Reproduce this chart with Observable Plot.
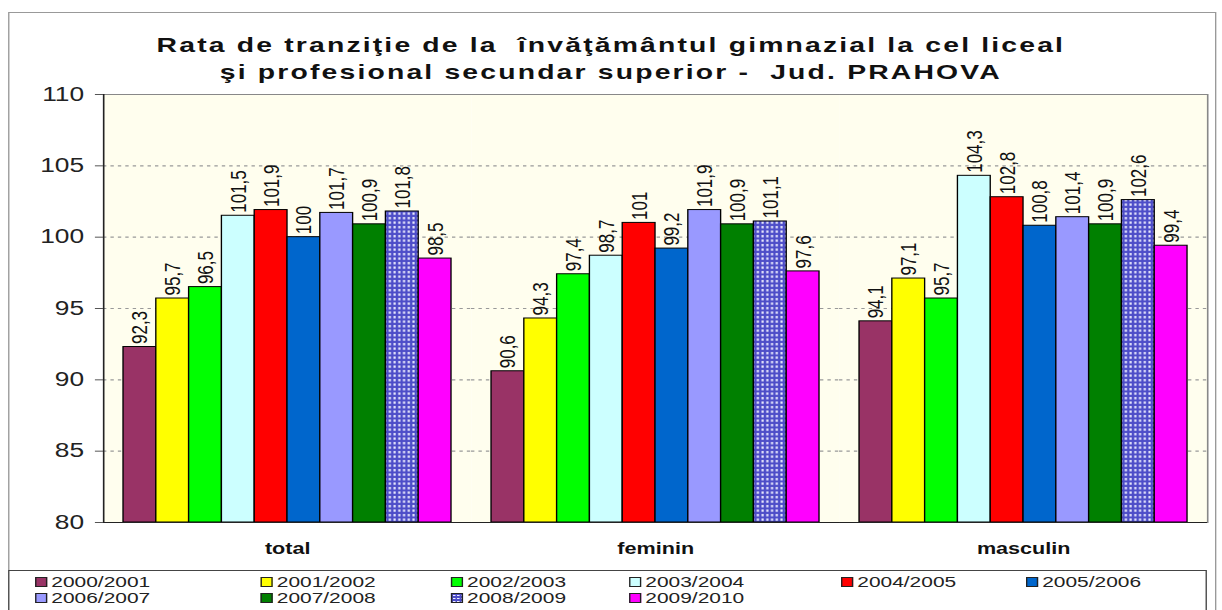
<!DOCTYPE html>
<html>
<head>
<meta charset="utf-8">
<script src="https://cdn.jsdelivr.net/npm/d3@7"></script>
<script src="https://cdn.jsdelivr.net/npm/@observablehq/plot@0.6"></script>
<style>
  html, body { margin: 0; padding: 0; background: #fff; overflow: hidden; }
  #wrap { position: absolute; left: 0; top: 0; width: 905px; height: 610px;
          transform: scaleX(1.35); transform-origin: 0 0;
          font-family: "Liberation Sans", Arial, sans-serif; }
  #frame { position: absolute; left: 6px; top: 12px; width: 895px; height: 640px;
           border: 1.5px solid #999; box-sizing: border-box; }
  #title { position: absolute; left: 0; width: 905px; top: 31px; text-align: center;
           font-weight: bold; font-size: 21px; letter-spacing: 1.6px; line-height: 27px; color: #111; white-space: pre; }
  #chart { position: absolute; left: 0; top: 0; }
  #legend { position: absolute; left: 6px; top: 570px; width: 888px; height: 60px;
            border: 1.5px solid #444; box-sizing: border-box; background: #fff; }
  .item { position: absolute; font-size: 15.5px; line-height: 16px; color: #222; white-space: nowrap; }
  .sw { display: inline-block; width: 7px; height: 8px; border: 1px solid #222; margin-right: 3px;
        vertical-align: 0px; }
</style>
</head>
<body>
<div id="wrap">
  <div id="frame"></div>
  <div id="title"></div>
  <div id="chart"></div>
  <div id="legend"></div>
</div>
<script>
const titleLines = ["Rata de tranziţie de la  învăţământul gimnazial la cel liceal",
                    "şi profesional secundar superior -  Jud. PRAHOVA"];
const groups = ["total", "feminin", "masculin"];
const years = ["2000/2001", "2001/2002", "2002/2003", "2003/2004", "2004/2005",
               "2005/2006", "2006/2007", "2007/2008", "2008/2009", "2009/2010"];
const colors = ["#993366", "#ffff00", "#00ff00", "#ccffff", "#ff0000",
                "#0066cc", "#9999ff", "#008000", "url(#dots)", "#ff00ff"];
const total    = [92.3, 95.7, 96.5, 101.5, 101.9, 100, 101.7, 100.9, 101.8, 98.5];
const feminin  = [90.6, 94.3, 97.4, 98.7, 101, 99.2, 101.9, 100.9, 101.1, 97.6];
const masculin = [94.1, 97.1, 95.7, 104.3, 102.8, 100.8, 101.4, 100.9, 102.6, 99.4];
const yTicks = [80, 85, 90, 95, 100, 105, 110];
const yDomain = [80, 110];

const series = [total, feminin, masculin];
const data = groups.flatMap((g, gi) => series[gi].map((v, i) => ({group: g, year: years[i], value: v})));
const fmt = v => String(v).replace(".", ",");

document.getElementById("title").textContent = titleLines.join("\n");

const chart = Plot.plot({
  width: 905, height: 570,
  marginLeft: 76.3, marginRight: 10.9, marginTop: 94, marginBottom: 48,
  style: {fontFamily: "Liberation Sans, Arial, sans-serif", background: "transparent", overflow: "visible"},
  fx: {domain: groups, padding: 0, round: false, label: null},
  x: {domain: years, paddingInner: 0, paddingOuter: 0.61, round: false, axis: null},
  y: {domain: yDomain, ticks: yTicks, label: null},
  color: {domain: years, range: colors},
  marks: [
    Plot.frame({fill: "#fffeee", stroke: null}),
    Plot.gridY(yTicks.filter(t => t > 80 && t < 110), {stroke: "#999", strokeOpacity: 1, strokeDasharray: "2.5,3", strokeWidth: 1.2}),
    Plot.ruleY([110], {stroke: "#888", strokeWidth: 1.2}),
    Plot.frame({anchor: "right", stroke: "#888", strokeWidth: 1.2, fx: ["masculin"]}),
    Plot.barY(data, {fx: "group", x: "year", y1: yDomain[0], y2: "value", fill: "year", stroke: "#000", strokeWidth: 1}),
    Plot.text(data, {fx: "group", x: "year", y: "value", text: d => fmt(d.value), rotate: -90,
      textAnchor: "start", lineAnchor: "middle", dy: -3, fontSize: 17, fill: "#111"}),
    Plot.ruleY([80], {stroke: "#222", strokeWidth: 1.2}),
    Plot.frame({anchor: "left", stroke: "#222", strokeWidth: 1.2, fx: ["total"]}),
    Plot.axisY(yTicks, {anchor: "left", tickSize: 6, tickPadding: 8.5, fontSize: 19.5, fill: "#222", stroke: "#555", label: null}),
    Plot.axisFx({anchor: "bottom", tickSize: 0, tickPadding: 20, fontSize: 16, fontWeight: "bold", fill: "#111", label: null})
  ]
});

const defs = d3.create("svg:defs");
const pat = defs.append("pattern").attr("id", "dots").attr("patternUnits", "userSpaceOnUse")
  .attr("width", 3.5).attr("height", 4.5);
pat.append("rect").attr("width", 3.5).attr("height", 4.5).attr("fill", "#4d4dc8");
pat.append("rect").attr("x", 1).attr("y", 1).attr("width", 1.6).attr("height", 2.3).attr("fill", "#eeeeff");
chart.insertBefore(defs.node(), chart.firstChild);
document.getElementById("chart").appendChild(chart);

// legend
const legendX = [25, 192, 333, 465, 622, 759];
const legend = document.getElementById("legend");
years.forEach((y, i) => {
  const row = Math.floor(i / 6), col = i % 6;
  const it = document.createElement("div");
  it.className = "item";
  it.style.left = (legendX[col] - 6) + "px";
  it.style.top = (3 + row * 16) + "px";
  const sw = document.createElement("span");
  sw.className = "sw";
  if (colors[i].startsWith("url")) {
    sw.style.background = "radial-gradient(#eef 30%, transparent 35%) 0 0/3px 3px, #4d4dc8";
  } else sw.style.background = colors[i];
  it.appendChild(sw);
  it.appendChild(document.createTextNode(y));
  legend.appendChild(it);
});
</script>
</body>
</html>
